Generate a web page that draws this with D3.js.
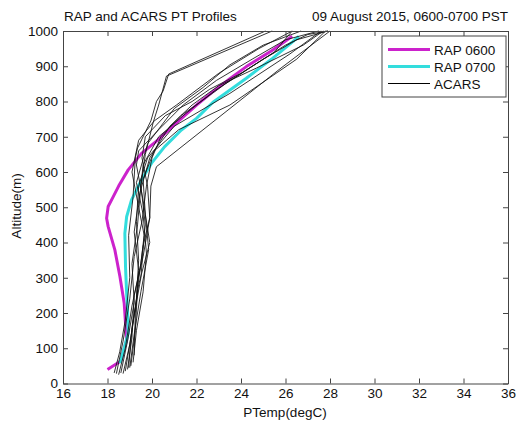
<!DOCTYPE html>
<html>
<head>
<meta charset="utf-8">
<script src="https://cdn.jsdelivr.net/npm/d3@7"></script>
<style>
    body { margin: 0; background: #fff; }
    svg text { font-family: "Liberation Sans", Arial, sans-serif; fill: #111; }
</style>
</head>
<body>
<svg id="canvas" width="516" height="424"></svg>
<script>
// [PTemp degC, altitude m]
let rap0600 = [[18.0,40],[18.6,64],[18.86,124],[18.75,228],[18.56,303],[18.33,379],[18.03,445],[17.96,469],[18.03,502],[18.26,530],[18.5,560],[18.93,606],[19.53,653],[20.27,691],[21.2,745],[22.0,790],[22.74,828],[23.5,865],[24.24,899],[25.43,946],[26.3,985]]
let rap0700 = [[18.56,58],[18.75,100],[18.93,143],[18.9,209],[18.85,270],[18.81,332],[18.78,426],[18.86,473],[19.08,521],[19.53,578],[19.98,625],[20.57,672],[21.32,719],[22.0,752],[22.74,798],[24.24,866],[25.43,923],[26.33,970],[26.6,985]]

let acars = [
    [[18.3,30],[18.55,90],[18.8,180],[19.0,300],[18.95,420],[19.15,530],[19.25,640],[19.35,668],[19.95,745],[20.2,800],[20.5,830],[20.75,878],[25.1,1000]],
    [[18.5,25],[18.8,100],[19.1,220],[19.5,340],[19.7,450],[19.5,560],[19.7,650],[20.05,740],[20.3,790],[20.45,825],[20.65,872],[25.4,1000]],
    [[18.9,40],[19.1,130],[19.2,250],[19.6,360],[19.9,470],[19.95,560],[20.2,615],[25.8,895],[28.0,1000]],
    [[19.0,45],[19.2,140],[19.5,260],[19.85,380],[19.7,480],[19.6,580],[20.1,660],[21.2,720],[23.5,790],[26.5,920],[27.8,1000]],
    [[18.7,28],[19.0,110],[19.3,240],[19.4,350],[19.3,460],[19.4,560],[19.8,640],[21.0,730],[23.5,823],[26.2,935],[27.6,1000]],
    [[19.15,60],[19.3,150],[19.6,260],[19.75,370],[19.6,480],[19.3,570],[19.8,680],[21.0,780],[22.3,840],[23.5,904],[25.0,960],[26.7,1000]],
    [[18.6,30],[18.9,120],[19.2,230],[19.1,340],[19.35,450],[19.5,560],[19.6,620],[20.3,700],[21.5,765],[22.8,830],[24.5,900],[26.0,960],[27.0,990],[27.9,1000]],
    [[19.05,50],[19.25,150],[19.35,270],[19.6,390],[19.9,470],[19.8,560],[19.55,640],[19.7,700],[20.6,760],[21.8,800],[22.6,835],[24.0,880],[25.5,940],[26.3,1000]],
    [[18.8,35],[19.1,150],[19.4,280],[19.9,400],[19.6,520],[19.3,620],[19.4,660],[20.3,720],[21.4,790],[22.9,860],[24.5,920],[26.0,975],[27.5,1000]],
    [[19.2,80],[19.25,200],[19.4,320],[19.2,430],[19.45,540],[19.9,640],[20.8,730],[21.8,790],[23.0,845],[24.7,895],[26.8,960],[27.7,1000]],
    [[18.4,28],[18.7,120],[19.0,240],[19.2,360],[19.55,460],[19.75,560],[20.0,640],[20.4,700],[21.3,760],[22.2,800],[23.3,850],[25.0,920],[26.5,975],[27.9,1000]],
    [[18.95,45],[19.1,160],[19.5,300],[19.65,420],[19.4,500],[19.1,600],[19.4,690],[20.1,745],[21.1,790],[23.0,880],[24.8,950],[26.3,1000]]
]

let xTicks = [16,18,20,22,24,26,28,30,32,34,36]
let yTicks = [0,100,200,300,400,500,600,700,800,900,1000]
let legendNames = ["RAP 0600", "RAP 0700", "ACARS"]
let colors = ["#cc22cc", "#33dddd", "#000"]
let widths = [3, 3, 1]

let canvas = d3.select("#canvas")

let pLeft = 63, pRight = 508, pTop = 31, pBottom = 383.5
let fs = "13.5px"

let x = d3.scaleLinear().domain([16, 36]).range([pLeft, pRight])
let y = d3.scaleLinear().domain([0, 1000]).range([pBottom, pTop])

let line = d3.line().x(d => x(d[0])).y(d => y(d[1]))

canvas.append("rect").attr("width", 516).attr("height", 424).attr("fill", "#fff")

// RAP first, ACARS plotted over it
let series = [rap0600, rap0700]
series.forEach((s, i) => {
    canvas.append("path")
    .attr("d", line(s))
    .attr("fill", "none")
    .attr("stroke", colors[i])
    .attr("stroke-width", widths[i])
    .attr("stroke-linejoin", "round")
})

canvas.selectAll(".acars").data(acars)
    .enter()
    .append("path")
    .attr("class", "acars")
    .attr("d", line)
    .attr("fill", "none")
    .attr("stroke", "#111")
    .attr("stroke-width", 0.85)

let styleAxis = g => {
    g.select(".domain").attr("stroke", "#444")
    g.selectAll(".tick line").attr("stroke", "#444")
    g.selectAll(".tick text").attr("font-size", fs).attr("fill", "#111")
        .attr("font-family", "Liberation Sans, Arial, sans-serif")
}

canvas.append("g")
    .attr("transform", `translate(0,${pBottom})`)
    .call(d3.axisBottom(x).tickValues(xTicks).tickFormat(d3.format("d")).tickSizeInner(-5).tickSizeOuter(0).tickPadding(5))
    .call(styleAxis)

canvas.append("g")
    .attr("transform", `translate(0,${pTop})`)
    .call(d3.axisTop(x).tickValues(xTicks).tickSizeInner(-5).tickSizeOuter(0).tickFormat(""))
    .call(styleAxis)

canvas.append("g")
    .attr("transform", `translate(${pLeft},0)`)
    .call(d3.axisLeft(y).tickValues(yTicks).tickFormat(d3.format("d")).tickSizeInner(-5).tickSizeOuter(0).tickPadding(5))
    .call(styleAxis)

canvas.append("g")
    .attr("transform", `translate(${pRight},0)`)
    .call(d3.axisRight(y).tickValues(yTicks).tickSizeInner(-5).tickSizeOuter(0).tickFormat(""))
    .call(styleAxis)

// titles and labels
canvas.append("text").attr("x", pLeft + 1).attr("y", 21).attr("font-size", fs)
    .text("RAP and ACARS PT Profiles")
canvas.append("text").attr("x", pRight).attr("y", 21).attr("font-size", fs)
    .attr("text-anchor", "end")
    .text("09 August 2015, 0600-0700 PST")
canvas.append("text").attr("x", 285).attr("y", 417).attr("font-size", fs)
    .attr("text-anchor", "middle")
    .text("PTemp(degC)")
canvas.append("text").attr("transform", "translate(21,206) rotate(-90)").attr("font-size", fs)
    .attr("text-anchor", "middle")
    .text("Altitude(m)")

// legend
let legend = canvas.append("g").attr("transform", "translate(382,36)")
legend.append("rect").attr("width", 124).attr("height", 61)
    .attr("fill", "#fff").attr("stroke", "#444")
legendNames.forEach((name, i) => {
    let ly = 13.5 + i * 17
    legend.append("line").attr("x1", 6).attr("x2", 48).attr("y1", ly).attr("y2", ly)
        .attr("stroke", colors[i]).attr("stroke-width", widths[i])
    legend.append("text").attr("x", 52).attr("y", ly + 5).attr("font-size", fs)
        .text(name)
})
</script>
</body>
</html>
